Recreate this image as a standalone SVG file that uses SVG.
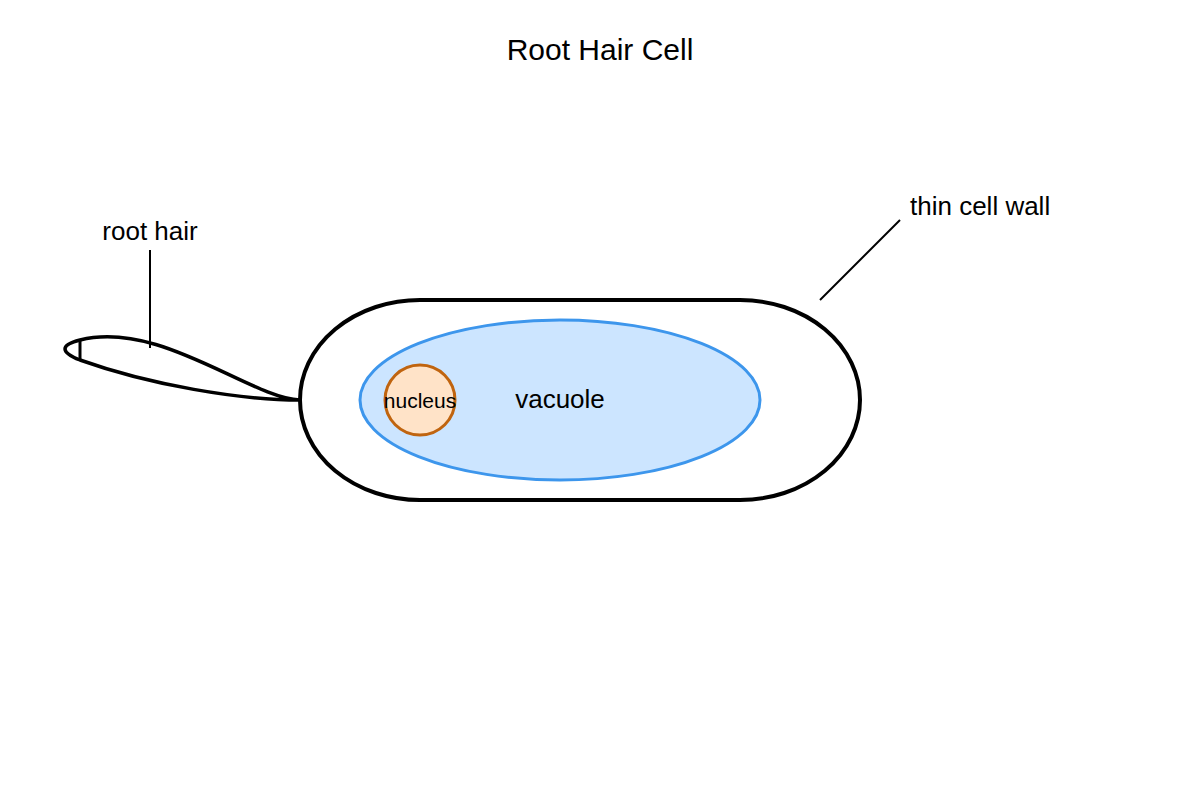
<svg xmlns="http://www.w3.org/2000/svg" width="1200" height="800" viewBox="0 0 1200 800">
<style>
.t{font-family:"Liberation Sans",Arial,sans-serif;fill:#000}
.ln{stroke:#000;stroke-width:2;fill:none}
</style>
<rect width="1200" height="800" fill="#fff"/>
<text class="t" x="600" y="60" font-size="30" text-anchor="middle">Root Hair Cell</text>
<g id="root-hair">
<path d="M300,400 C250,398 160,320 80,340 C60,345 60,352 80,360 C150,385 240,400 300,400 Z" fill="#fff" stroke="#000" stroke-width="3.5"/>
<line x1="80" y1="340" x2="80" y2="360" stroke="#000" stroke-width="3"/>
</g>
<g id="cell">
<rect x="300" y="300" width="560" height="200" rx="120" ry="100" fill="#fff" stroke="#000" stroke-width="4"/>
</g>
<g id="vacuole">
<ellipse cx="560" cy="400" rx="200" ry="80" fill="#cce5ff" stroke="#3d96ec" stroke-width="3"/>
<text class="t" x="560" y="408" font-size="26" text-anchor="middle">vacuole</text>
</g>
<g id="nucleus">
<circle cx="420" cy="400" r="35" fill="#ffe3c8" stroke="#c0640f" stroke-width="3"/>
<text class="t" x="420" y="408" font-size="21" text-anchor="middle">nucleus</text>
</g>
<g id="connectors">
<line class="ln" x1="150" y1="250" x2="150" y2="348"/>
<line class="ln" x1="820" y1="300" x2="900" y2="220"/>
</g>
<text class="t" x="150" y="240" font-size="26" text-anchor="middle">root hair</text>
<text class="t" x="910" y="215" font-size="26">thin cell wall</text>
</svg>
